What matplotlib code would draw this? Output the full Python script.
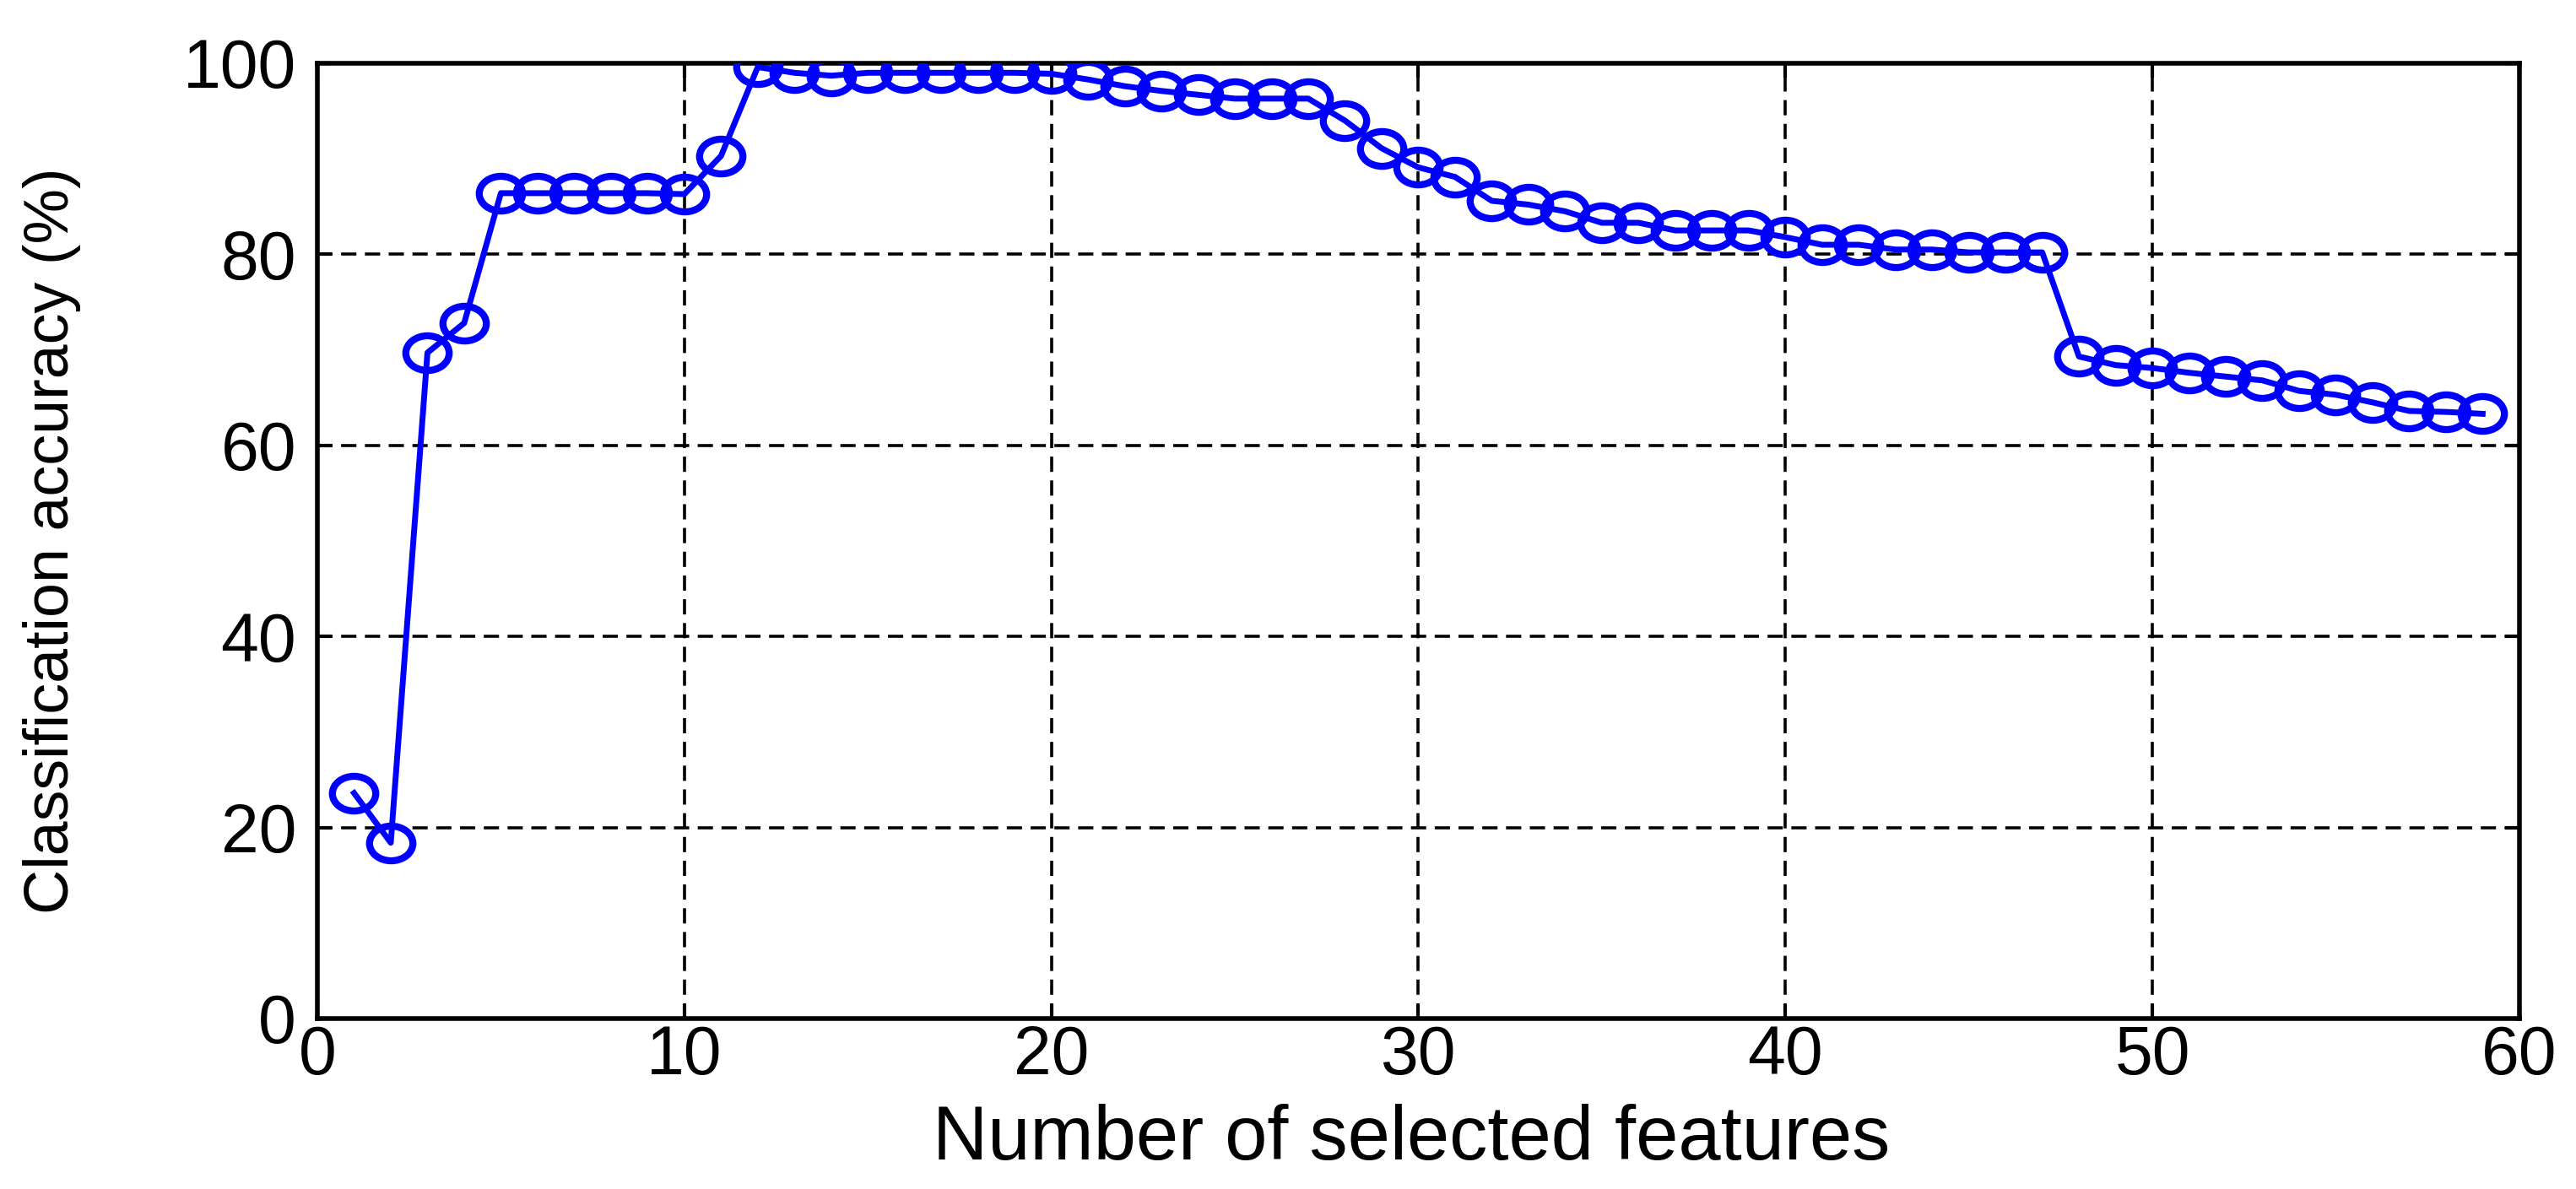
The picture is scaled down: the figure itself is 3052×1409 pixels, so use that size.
import matplotlib
matplotlib.use("Agg")
import matplotlib.pyplot as plt
from matplotlib.path import Path
from matplotlib.transforms import Affine2D

plt.rcParams['font.family'] = ['Liberation Sans', 'DejaVu Sans']

# number of selected features and accuracy (%)
features = list(range(1, 60))
accuracy = [23.6, 18.4, 69.7, 72.8, 86.4, 86.4, 86.4, 86.4, 86.4, 86.3,
            90.3, 99.6, 99.0, 98.7, 99.0, 99.0, 99.0, 99.0, 99.0, 98.9,
            98.3, 97.6, 97.1, 96.7, 96.3, 96.3, 96.3, 94.0, 91.1, 89.1,
            88.1, 85.6, 85.2, 84.5, 83.3, 83.3, 82.5, 82.5, 82.5, 81.8,
            81.0, 81.0, 80.5, 80.5, 80.2, 80.2, 80.2, 69.3, 68.4, 68.1,
            67.6, 67.2, 66.8, 65.7, 65.3, 64.5, 63.6, 63.5, 63.3]

x_ticks = [0, 10, 20, 30, 40, 50, 60]
y_ticks = [0, 20, 40, 60, 80, 100]

# the original is stretched sideways, so the circles come out a bit flat
oval = Path.unit_circle().transformed(Affine2D().scale(1.25, 1.0))

fig = plt.figure(figsize=(30.52, 14.09), dpi=100)
ax = fig.add_axes([0.1232, 0.1434, 0.8548, 0.8034])

ax.plot(features, accuracy, color='#0000ff', linewidth=5,
        marker=oval, markersize=37, markerfacecolor='none',
        markeredgecolor='#0000ff', markeredgewidth=6, zorder=3)

ax.set_xlim(0, 60)
ax.set_ylim(0, 100)
ax.set_xticks(x_ticks)
ax.set_yticks(y_ticks)
ax.grid(True, color='black', linestyle=(0, (5, 2.8)), linewidth=2.6)
ax.tick_params(direction='in', length=12, width=3, labelsize=58,
               top=True, right=True)
ax.tick_params(axis='y', pad=18)
ax.tick_params(axis='x', pad=5)
for s in ax.spines.values():
    s.set_linewidth(4)

ax.set_xlabel('Number of selected features', fontsize=65)
ax.xaxis.set_label_coords(0.497, -0.127)
ax.xaxis.label.set_va('center')
ax.set_ylabel('Classification accuracy (%)', fontsize=53)
ax.yaxis.set_label_coords(-0.1205, 0.5)
ax.yaxis.label.set_va('center')

fig.savefig('out.png', dpi=100)
